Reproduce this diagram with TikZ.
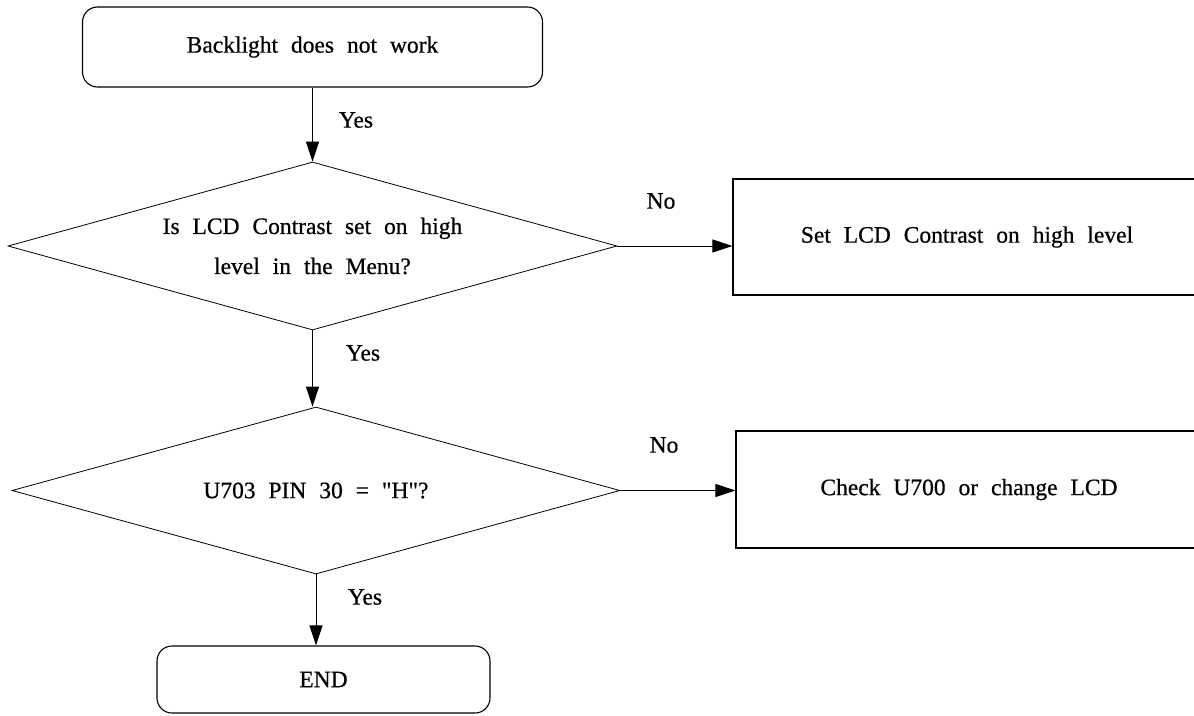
\documentclass[tikz,border=0pt]{standalone}
\usepackage{fontspec}
\setmainfont{Liberation Serif}[WordSpace=2.2,Ligatures=TeXOff,FakeBold=0.6]
\usetikzlibrary{shapes.geometric,arrows.meta}
\begin{document}
\begin{tikzpicture}[x=1pt,y=-1pt,
  every node/.style={font=\fontsize{23.5}{28}\selectfont},
  term/.style={draw, rounded corners=15pt, line width=1.1pt, inner sep=0pt},
  proc/.style={draw, line width=1.1pt, inner sep=0pt},
  decision/.style={draw, diamond, aspect=3.6, inner sep=0pt, line width=0.8pt, align=center},
  arr/.style={-{Triangle[length=20pt,width=13pt]}, line width=1pt},
  lbl/.style={inner sep=0pt}]
\useasboundingbox (0,0) rectangle (1194,715);
\node[term, minimum width=460pt, minimum height=80pt] (start) at (312.5,47) {Backlight does not work};
\node[decision, minimum width=609pt, minimum height=168pt] (d1) at (312.5,246) {Is LCD Contrast set on high\\[12pt]level in the Menu?};
\node[proc, minimum width=468pt, minimum height=116pt] (box1) at (967,237) {Set LCD Contrast on high level};
\node[decision, minimum width=608pt, minimum height=167pt] (d2) at (316,490.5) {U703 PIN 30 = "H"?};
\node[proc, minimum width=466pt, minimum height=117pt] (box2) at (969,489.5) {Check U700 or change LCD};
\node[term, minimum width=333pt, minimum height=67pt] (end) at (323.5,679.5) {END};
\draw[arr] (start.south) -- (d1.north);
\draw[arr] (d1.south) -- (d1.south |- d2.north);
\draw[arr] (d2.south) -- (d2.south |- end.north);
\draw[arr] (d1.east) -- (d1.east -| box1.west);
\draw[arr] (d2.east) -- (d2.east -| box2.west);
\node[lbl] (y1) at (356,120) {Yes};
\node[lbl] (y2) at (363,353) {Yes};
\node[lbl] (n1) at (661,201) {No};
\node[lbl] (n2) at (664,445) {No};
\node[lbl] (y3) at (365,597) {Yes};
\end{tikzpicture}
\end{document}
